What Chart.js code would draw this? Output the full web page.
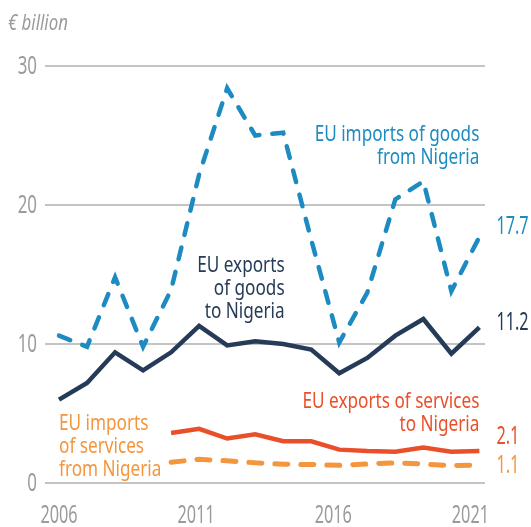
<!DOCTYPE html>
<html>
<head>
<meta charset="utf-8">
<script src="https://cdn.jsdelivr.net/npm/chart.js@4.4.1/dist/chart.umd.min.js"></script>
<style>
  body { margin: 0; background: #fff; }
  #wrap { width: 531px; height: 527px; position: relative; }
</style>
</head>
<body>
<div id="wrap"><canvas id="tradeChart"></canvas></div>
<script>
// Years and series (€ billion)
const years = [2006, 2007, 2008, 2009, 2010, 2011, 2012, 2013, 2014, 2015, 2016, 2017, 2018, 2019, 2020, 2021];
const importsGoods = [10.6, 9.8, 14.8, 9.8, 13.9, 22.2, 28.4, 25.0, 25.2, 17.5, 10.1, 13.7, 20.4, 21.7, 13.8, 17.7];
const exportsGoods = [6.0, 7.2, 9.4, 8.1, 9.4, 11.3, 9.9, 10.2, 10.0, 9.6, 7.9, 9.0, 10.6, 11.8, 9.3, 11.2];
const exportsServices = [null, null, null, null, 3.6, 3.9, 3.2, 3.5, 3.0, 3.0, 2.4, 2.3, 2.25, 2.55, 2.25, 2.3];
const importsServices = [null, null, null, null, 1.5, 1.7, 1.6, 1.45, 1.35, 1.33, 1.27, 1.37, 1.45, 1.37, 1.25, 1.3];
const xTicks = [2006, 2011, 2016, 2021];
const yTicks = [0, 10, 20, 30];

const BLUE = '#1d8bc1';
const NAVY = '#253b57';
const RED = '#e9502a';
const ORANGE = '#f3963d';
const GREY = '#9b9b9b';
const FONT = "'Noto Sans', sans-serif";

function pts(vals) {
    return years.map((y, i) => ({ x: y, y: vals[i] }));
}

// text labels placed in data coordinates
const notes = [
    { lines: ['EU imports of goods', 'from Nigeria'], x: 2021, y: 24.6, align: 'right', color: BLUE },
    { lines: ['EU exports', 'of goods', 'to Nigeria'], x: 2014.05, y: 15.2, align: 'right', color: NAVY },
    { lines: ['EU exports of services', 'to Nigeria'], x: 2021, y: 5.4, align: 'right', color: RED },
    { lines: ['EU imports', 'of services', 'from Nigeria'], x: 2006, y: 3.8, align: 'left', color: ORANGE }
];
const endLabels = [
    { text: '17.7', y: 18.4, color: BLUE },
    { text: '11.2', y: 11.5, color: NAVY },
    { text: '2.1', y: 3.3, color: RED },
    { text: '1.1', y: 1.2, color: ORANGE }
];

// condensed text: the picture uses a narrow face, so squeeze horizontally
function narrowText(ctx, text, x, y, sx) {
    ctx.save();
    ctx.translate(x, y);
    ctx.scale(sx, 1);
    ctx.fillText(text, 0, 0);
    ctx.restore();
}

const notesPlugin = {
    id: 'notes',
    afterDraw(chart) {
        const ctx = chart.ctx;
        const xs = chart.scales.x, ys = chart.scales.y;
        const area = chart.chartArea;
        ctx.save();

        // tick labels
        ctx.font = '26px ' + FONT;
        ctx.fillStyle = GREY;
        ctx.textAlign = 'right';
        ctx.textBaseline = 'middle';
        ys.ticks.forEach(t => narrowText(ctx, String(t.value), 37, ys.getPixelForValue(t.value) + 1, 0.65));
        ctx.font = '25px ' + FONT;
        ctx.textAlign = 'center';
        ctx.textBaseline = 'alphabetic';
        xs.ticks.forEach(t => {
            const px = xs.getPixelForValue(t.value) - (t.value - 2006) * 0.6;
            narrowText(ctx, String(t.value), px, area.bottom + 40, 0.65);
        });

        // series notes
        ctx.font = '22px ' + FONT;
        notes.forEach(n => {
            ctx.fillStyle = n.color;
            ctx.textAlign = n.align;
            const px = xs.getPixelForValue(n.x);
            const py = ys.getPixelForValue(n.y);
            n.lines.forEach((l, i) => narrowText(ctx, l, px, py + i * 23, 0.78));
        });

        // end values
        ctx.font = '25px ' + FONT;
        ctx.textAlign = 'left';
        ctx.textBaseline = 'middle';
        endLabels.forEach(e => {
            ctx.fillStyle = e.color;
            narrowText(ctx, e.text, xs.getPixelForValue(2021) + 17, ys.getPixelForValue(e.y), 0.65);
        });

        // unit label
        ctx.font = 'italic 21px ' + FONT;
        ctx.fillStyle = GREY;
        ctx.textAlign = 'left';
        ctx.textBaseline = 'alphabetic';
        narrowText(ctx, '€ billion', 8, 30, 0.8);
        ctx.restore();
    }
};

const ctx = document.getElementById('tradeChart').getContext('2d');
new Chart(ctx, {
    type: 'line',
    data: {
        datasets: [
            { data: pts(importsServices), borderColor: ORANGE, borderWidth: 5, borderDash: [13, 13], borderCapStyle: 'round' },
            { data: pts(exportsServices), borderColor: RED, borderWidth: 4.5 },
            { data: pts(exportsGoods), borderColor: NAVY, borderWidth: 4.5 },
            { data: pts(importsGoods), borderColor: BLUE, borderWidth: 4.5, borderDash: [12, 13], borderCapStyle: 'round' }
        ]
    },
    options: {
        responsive: true,
        maintainAspectRatio: false,
        animation: false,
        elements: {
            point: { radius: 0 },
            line: { tension: 0, fill: false, borderJoinStyle: 'miter' }
        },
        datasets: { line: { clip: false, spanGaps: false } },
        layout: { padding: { top: 66, right: 46, left: 0, bottom: 0 } },
        plugins: {
            legend: { display: false },
            tooltip: { enabled: false }
        },
        scales: {
            x: {
                type: 'linear',
                min: 2005.5,
                max: 2021.2,
                afterBuildTicks: axis => { axis.ticks = xTicks.map(v => ({ value: v })); },
                afterFit: axis => { axis.height = 44; },
                grid: { display: false, drawTicks: false },
                border: { display: false },
                ticks: { display: false }
            },
            y: {
                min: 0,
                max: 30,
                afterBuildTicks: axis => { axis.ticks = yTicks.map(v => ({ value: v })); },
                afterFit: axis => { axis.width = 45; },
                grid: { color: '#c4c4c4', lineWidth: 2, drawTicks: false },
                border: { display: false },
                ticks: { display: false }
            }
        }
    },
    plugins: [notesPlugin]
});
</script>
</body>
</html>
